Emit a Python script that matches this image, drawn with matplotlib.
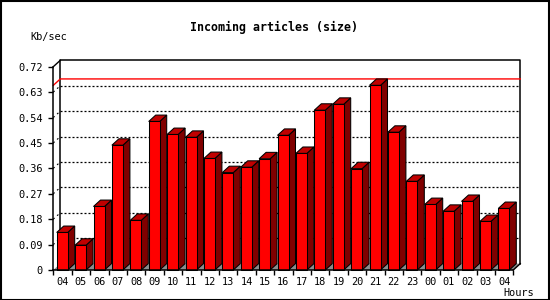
import matplotlib
matplotlib.use("Agg")
import matplotlib.pyplot as plt
from matplotlib.patches import Polygon, Rectangle
from matplotlib.lines import Line2D

# ---- data ----
hours = ["04", "05", "06", "07", "08", "09", "10", "11", "12", "13", "14", "15", "16",
         "17", "18", "19", "20", "21", "22", "23", "00", "01", "02", "03", "04"]
values = [0.133, 0.088, 0.225, 0.442, 0.176, 0.526, 0.480, 0.470, 0.395, 0.345, 0.364,
          0.394, 0.477, 0.413, 0.566, 0.587, 0.359, 0.654, 0.488, 0.314, 0.232, 0.208,
          0.243, 0.172, 0.218]
yticks = [0, 0.09, 0.18, 0.27, 0.36, 0.45, 0.54, 0.63, 0.72]
ytick_labels = ["0", "0.09", "0.18", "0.27", "0.36", "0.45", "0.54", "0.63", "0.72"]
title = "Incoming articles (size)"
ylabel = "Kb/sec"
xlabel = "Hours"

W, H = 550, 300
fig = plt.figure(figsize=(W / 100, H / 100), dpi=100)
fig.patch.set_facecolor("white")

# front plane of plot
x0p, x1p, y0p, y1p = 53.3, 513.3, 270.0, 66.7
ax = fig.add_axes([x0p / W, 1 - y0p / H, (x1p - x0p) / W, (y0p - y1p) / H])
n = len(values)
ymax = yticks[-1]
ax.set_xlim(0, n)
ax.set_ylim(0, ymax)
ax.patch.set_alpha(0)

px_x = n / (x1p - x0p)          # data units per pixel (x)
px_y = ymax / (y0p - y1p)       # data units per pixel (y)
dx = 7.0 * px_x
dy = 6.4 * px_y

mono = "DejaVu Sans Mono"

# floor
ax.add_patch(Polygon([(0, 0), (n, 0), (n + dx, dy), (dx, dy)], closed=True,
                     facecolor="#8c8c8c", edgecolor="none", clip_on=False, zorder=1))

# grid lines on back wall
for v in yticks[1:-1]:
    ax.add_line(Line2D([dx, n + dx], [v + dy, v + dy], color="black", lw=0.9,
                       linestyle=(0, (1.6, 1.6)), clip_on=False, zorder=1))
    ax.add_line(Line2D([0, dx], [v, v + dy], color="black", lw=0.8,
                       linestyle=(0, (1.6, 3)), clip_on=False, zorder=1))

# back wall frame
ax.add_line(Line2D([dx, dx, n + dx, n + dx], [dy, ymax + dy, ymax + dy, dy],
                   color="black", lw=1.1, clip_on=False, zorder=1))
ax.add_line(Line2D([0, dx], [ymax, ymax + dy], color="black", lw=1.0, clip_on=False, zorder=1))
ax.add_line(Line2D([n, n + dx], [0, dy], color="black", lw=1.0, clip_on=False, zorder=1))

# max line
vmax = max(values)
ax.add_line(Line2D([0, dx, n + dx], [vmax, vmax + dy, vmax + dy], color="#ff0000",
                   lw=1.0, clip_on=False, zorder=1.5))

# bars
bw = 11.0 * px_x
off = 3.4 * px_x
for i, v in enumerate(values):
    xl = i + off
    xr = xl + bw
    z = 2 + i * 0.01
    ax.add_patch(Polygon([(xr, 0), (xr + dx, dy), (xr + dx, v + dy), (xr, v)], closed=True,
                         facecolor="#800000", edgecolor="black", lw=0.75, clip_on=False, zorder=z))
    ax.add_patch(Polygon([(xl, v), (xr, v), (xr + dx, v + dy), (xl + dx, v + dy)], closed=True,
                         facecolor="#c00000", edgecolor="black", lw=0.75, clip_on=False, zorder=z))
    ax.add_patch(Rectangle((xl, 0), bw, v, facecolor="#ff0000", edgecolor="black", lw=0.75,
                           clip_on=False, zorder=z + 0.005))

# axes / ticks
for s in ["top", "right"]:
    ax.spines[s].set_visible(False)
for s in ["left", "bottom"]:
    ax.spines[s].set_linewidth(1.1)
    ax.spines[s].set_zorder(5)
ax.set_yticks(yticks)
ax.set_yticklabels(ytick_labels, fontfamily=mono, fontsize=7.4)
ax.tick_params(axis="y", direction="out", length=3.5, width=1, pad=4)
ax.set_xticks([i + 0.5 for i in range(n)])
ax.set_xticklabels(hours, fontfamily=mono, fontsize=7.4)
ax.set_xticks(list(range(n + 1)), minor=True)
ax.tick_params(axis="x", which="major", length=0, pad=5)
ax.tick_params(axis="x", which="minor", direction="out", length=3.5, width=1)

# texts
fig.text(274 / W, 1 - 27 / H, title, fontfamily=mono, fontweight="bold", fontsize=8.4,
         ha="center", va="center")
fig.text(30 / W, 1 - 37 / H, ylabel, fontfamily=mono, fontsize=7.4, ha="left", va="center")
fig.text(534 / W, 1 - 293 / H, xlabel, fontfamily=mono, fontsize=7.4, ha="right", va="center")

# outer border
fig.add_artist(Rectangle((0.5 / W, 0.5 / H), (W - 1.5) / W, (H - 1.5) / H,
                         transform=fig.transFigure, fill=False, edgecolor="black", lw=1.5))

fig.savefig("out.png", dpi=100)
